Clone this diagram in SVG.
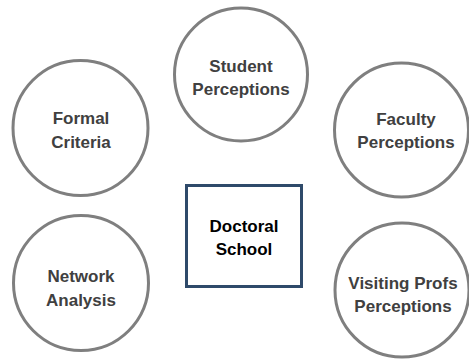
<svg xmlns="http://www.w3.org/2000/svg" width="469" height="362" viewBox="0 0 469 362">
  <style>
    .bubble { fill: #ffffff; stroke: #7f7f7f; stroke-width: 3; }
    .core { fill: #ffffff; stroke: #2f4a6a; stroke-width: 3; }
    .lbl { font-family: "Liberation Sans", Arial, sans-serif; font-size: 17px; font-weight: bold; text-anchor: middle; fill: #404040; }
    .lbl-core { fill: #000000; }
  </style>
  <rect width="469" height="362" fill="#ffffff"/>
  <g id="connectors"></g>
  <g id="student">
    <circle class="bubble" cx="241" cy="74.5" r="66.5"/>
    <text class="lbl" x="241" y="72">Student</text>
    <text class="lbl" x="241" y="95">Perceptions</text>
  </g>
  <g id="formal">
    <circle class="bubble" cx="80.5" cy="128" r="67.5"/>
    <text class="lbl" x="81" y="124">Formal</text>
    <text class="lbl" x="81" y="148">Criteria</text>
  </g>
  <g id="faculty">
    <circle class="bubble" cx="401.5" cy="130" r="67"/>
    <text class="lbl" x="406" y="125">Faculty</text>
    <text class="lbl" x="406" y="148">Perceptions</text>
  </g>
  <g id="network">
    <circle class="bubble" cx="81" cy="283" r="67.5"/>
    <text class="lbl" x="81" y="282">Network</text>
    <text class="lbl" x="81" y="306">Analysis</text>
  </g>
  <g id="visiting">
    <circle class="bubble" cx="402" cy="290" r="67"/>
    <text class="lbl" x="403" y="289">Visiting Profs</text>
    <text class="lbl" x="403" y="312">Perceptions</text>
  </g>
  <g id="doctoral">
    <rect class="core" x="186.5" y="185.5" width="115" height="101"/>
    <text class="lbl lbl-core" x="244" y="232">Doctoral</text>
    <text class="lbl lbl-core" x="244" y="255">School</text>
  </g>
</svg>
